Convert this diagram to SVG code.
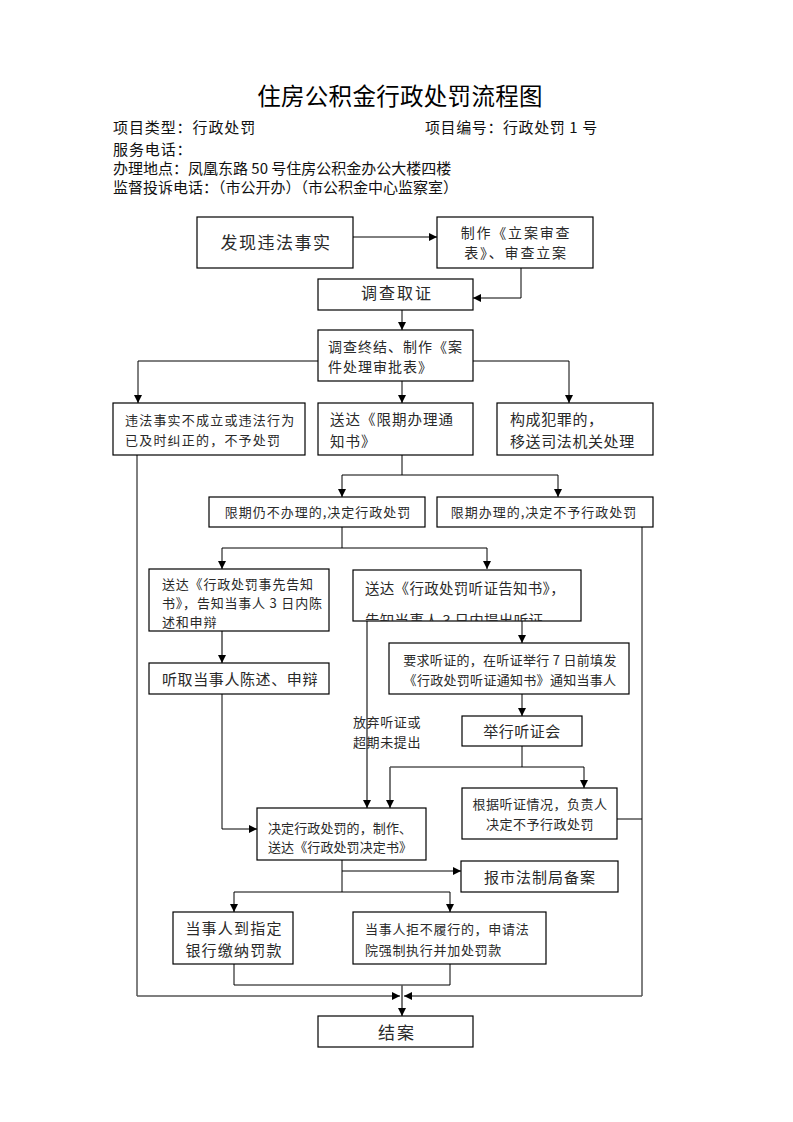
<svg xmlns="http://www.w3.org/2000/svg" width="793" height="1122" viewBox="0 0 793 1122">
<style>
text{font-family:"Noto Sans CJK SC","Liberation Sans",sans-serif;fill:#2a2a2a}
.title{font-size:23.5px;fill:#000;text-anchor:middle;letter-spacing:0.3px}
.hdr{font-size:15px;fill:#111}
.box{fill:#fff;stroke:#000;stroke-width:1.2}
.c{text-anchor:middle}
.ln{fill:none;stroke:#000;stroke-width:1}
.gl{fill:none;stroke:#555;stroke-width:1.6}
</style>
<defs>
<marker id="ah" markerUnits="userSpaceOnUse" markerWidth="8" markerHeight="8" viewBox="0 0 8 8" refX="8" refY="4" orient="auto">
<path d="M0,0 L8,4 L0,8 z" fill="#000"/>
</marker>
<clipPath id="clipG"><rect x="353" y="570" width="228" height="51"/></clipPath>
</defs>
<rect width="793" height="1122" fill="#fff"/>

<g id="header">
<text class="title" x="400" y="105">住房公积金行政处罚流程图</text>
<text class="hdr" x="113" y="133" style="letter-spacing:0.9px">项目类型：行政处罚</text>
<text class="hdr" x="425" y="133" style="letter-spacing:0.6px">项目编号：行政处罚 1 号</text>
<text class="hdr" x="113" y="155" style="letter-spacing:0.9px">服务电话：</text>
<text class="hdr" x="113" y="174">办理地点：凤凰东路 50 号住房公积金办公大楼四楼</text>
<text class="hdr" x="113" y="193">监督投诉电话：（市公开办）（市公积金中心监察室）</text>
</g>

<g id="connectors">
<path class="ln" d="M353,237 H437" marker-end="url(#ah)"/>
<path class="ln" d="M521,268 V298 H473" marker-end="url(#ah)"/>
<path class="ln" d="M402,310 V330" marker-end="url(#ah)"/>
<path class="ln" d="M318,361 H138 V403" marker-end="url(#ah)"/>
<path class="ln" d="M402,381 V403" marker-end="url(#ah)"/>
<path class="ln" d="M473,361 H569 V403" marker-end="url(#ah)"/>
<path class="ln" d="M402,455 V475 M342,475 H558"/>
<path class="ln" d="M342,475 V497" marker-end="url(#ah)"/>
<path class="ln" d="M558,475 V497" marker-end="url(#ah)"/>
<path class="ln" d="M342,527 V548 M222,548 H487"/>
<path class="ln" d="M222,548 V569" marker-end="url(#ah)"/>
<path class="ln" d="M487,548 V569" marker-end="url(#ah)"/>
<path class="ln" d="M137,455 V996"/>
<path class="gl" d="M137,996 H400" marker-end="url(#ah)"/>
<path class="ln" d="M642,527 V996"/>
<path class="gl" d="M642,996 H404" marker-end="url(#ah)"/>
<path class="gl" d="M222,631 V663" marker-end="url(#ah)"/>
<path class="ln" d="M222,694 V829 H257" marker-end="url(#ah)"/>
<path class="gl" d="M367,621 V808" marker-end="url(#ah)"/>
<path class="ln" d="M522,621 V643" marker-end="url(#ah)"/>
<path class="ln" d="M522,694 V716" marker-end="url(#ah)"/>
<path class="ln" d="M522,746 V767 M390,767 H584"/>
<path class="ln" d="M584,767 V788" marker-end="url(#ah)"/>
<path class="gl" d="M390,767 V808" marker-end="url(#ah)"/>
<path class="ln" d="M617,819 H642"/>
<path class="ln" d="M342,860 V892 M234,892 H450"/>
<path class="ln" d="M342,871 H461" marker-end="url(#ah)"/>
<path class="ln" d="M234,892 V912" marker-end="url(#ah)"/>
<path class="ln" d="M450,892 V912" marker-end="url(#ah)"/>
<path class="ln" d="M234,964 V985 H450 V964"/>
<path class="gl" d="M402,985 V1016" marker-end="url(#ah)"/>
<text x="353" y="727" style="font-size:13px;letter-spacing:0.6px">放弃听证或</text>
<text x="353" y="747" style="font-size:13px;letter-spacing:0.6px">超期未提出</text>
</g>

<g id="n1">
<rect class="box" x="197" y="217" width="156" height="51"/>
<text class="c" x="276" y="249" style="font-size:17px;letter-spacing:1.5px">发现违法事实</text>
</g>
<g id="n2">
<rect class="box" x="437" y="217" width="156" height="51"/>
<text class="c" x="516" y="238" style="font-size:14px;letter-spacing:1.8px">制作《立案审查</text>
<text class="c" x="516" y="258" style="font-size:14px;letter-spacing:1.8px">表》、审查立案</text>
</g>
<g id="n3">
<rect class="box" x="318" y="279" width="155" height="31"/>
<text class="c" x="397" y="299" style="font-size:16px;letter-spacing:2px">调查取证</text>
</g>
<g id="n4">
<rect class="box" x="318" y="330" width="155" height="51"/>
<text x="328" y="352" style="font-size:14px;letter-spacing:1px">调查终结、制作《案</text>
<text x="328" y="372" style="font-size:14px;letter-spacing:1px">件处理审批表》</text>
</g>
<g id="nA">
<rect class="box" x="113" y="403" width="192" height="52"/>
<text x="125" y="425" style="font-size:13px;letter-spacing:1.2px">违法事实不成立或违法行为</text>
<text x="125" y="445" style="font-size:13px;letter-spacing:1.2px">已及时纠正的，不予处罚</text>
</g>
<g id="nB">
<rect class="box" x="318" y="403" width="155" height="52"/>
<text x="330" y="425" style="font-size:14.5px;letter-spacing:1px">送达《限期办理通</text>
<text x="330" y="447" style="font-size:14.5px;letter-spacing:1px">知书》</text>
</g>
<g id="nC">
<rect class="box" x="497" y="403" width="156" height="52"/>
<text x="510" y="425" style="font-size:15px;letter-spacing:0.6px">构成犯罪的，</text>
<text x="510" y="447" style="font-size:15px;letter-spacing:0.6px">移送司法机关处理</text>
</g>
<g id="nD">
<rect class="box" x="209" y="497" width="216" height="30"/>
<text class="c" x="318" y="517" style="font-size:13px;letter-spacing:1px">限期仍不办理的,决定行政处罚</text>
</g>
<g id="nE">
<rect class="box" x="437" y="497" width="216" height="30"/>
<text class="c" x="544" y="517" style="font-size:13px;letter-spacing:1px">限期办理的,决定不予行政处罚</text>
</g>
<g id="nF">
<rect class="box" x="149" y="569" width="180" height="62"/>
<text x="162" y="589" style="font-size:13px;letter-spacing:0.8px">送达《行政处罚事先告知</text>
<text x="162" y="608" style="font-size:13px;letter-spacing:0.8px">书》，告知当事人 3 日内陈</text>
<text x="162" y="627" style="font-size:13px;letter-spacing:0.8px">述和申辩</text>
</g>
<g id="nG">
<rect class="box" x="353" y="570" width="228" height="51"/>
<text x="365" y="594" style="font-size:14.5px;letter-spacing:0.3px">送达《行政处罚听证告知书》，</text>
<text x="365" y="626" clip-path="url(#clipG)" style="font-size:14.5px;letter-spacing:0.3px">告知当事人 3 日内提出听证</text>
</g>
<g id="nK">
<rect class="box" x="149" y="663" width="180" height="31"/>
<text x="162" y="685" style="font-size:15px;letter-spacing:0.6px">听取当事人陈述、申辩</text>
</g>
<g id="nH">
<rect class="box" x="389" y="643" width="240" height="51"/>
<text class="c" x="510" y="665" style="font-size:13px;letter-spacing:0.3px">要求听证的，在听证举行 7 日前填发</text>
<text class="c" x="510" y="685" style="font-size:13px;letter-spacing:0.3px">《行政处罚听证通知书》通知当事人</text>
</g>
<g id="nI">
<rect class="box" x="462" y="716" width="120" height="30"/>
<text class="c" x="522" y="737" style="font-size:15px;letter-spacing:0.5px">举行听证会</text>
</g>
<g id="nJ">
<rect class="box" x="462" y="788" width="155" height="51"/>
<text class="c" x="540" y="809" style="font-size:13px;letter-spacing:0.5px">根据听证情况，负责人</text>
<text class="c" x="540" y="829" style="font-size:13px;letter-spacing:0.5px">决定不予行政处罚</text>
</g>
<g id="nL">
<rect class="box" x="257" y="808" width="169" height="52"/>
<text x="268" y="833" style="font-size:13px;letter-spacing:0.1px">决定行政处罚的，制作、</text>
<text x="268" y="852" style="font-size:13px;letter-spacing:0.1px">送达《行政处罚决定书》</text>
</g>
<g id="nM">
<rect class="box" x="461" y="861" width="157" height="31"/>
<text class="c" x="540" y="883" style="font-size:15px;letter-spacing:1px">报市法制局备案</text>
</g>
<g id="nN">
<rect class="box" x="173" y="912" width="120" height="52"/>
<text class="c" x="234" y="934" style="font-size:15px;letter-spacing:1.2px">当事人到指定</text>
<text class="c" x="234" y="956" style="font-size:15px;letter-spacing:1.2px">银行缴纳罚款</text>
</g>
<g id="nO">
<rect class="box" x="353" y="912" width="193" height="52"/>
<text x="365" y="934" style="font-size:13px;letter-spacing:0.7px">当事人拒不履行的，申请法</text>
<text x="365" y="955" style="font-size:13px;letter-spacing:0.7px">院强制执行并加处罚款</text>
</g>
<g id="nP">
<rect class="box" x="318" y="1016" width="155" height="31"/>
<text class="c" x="397" y="1039" style="font-size:17px;letter-spacing:2px">结案</text>
</g>
</svg>
